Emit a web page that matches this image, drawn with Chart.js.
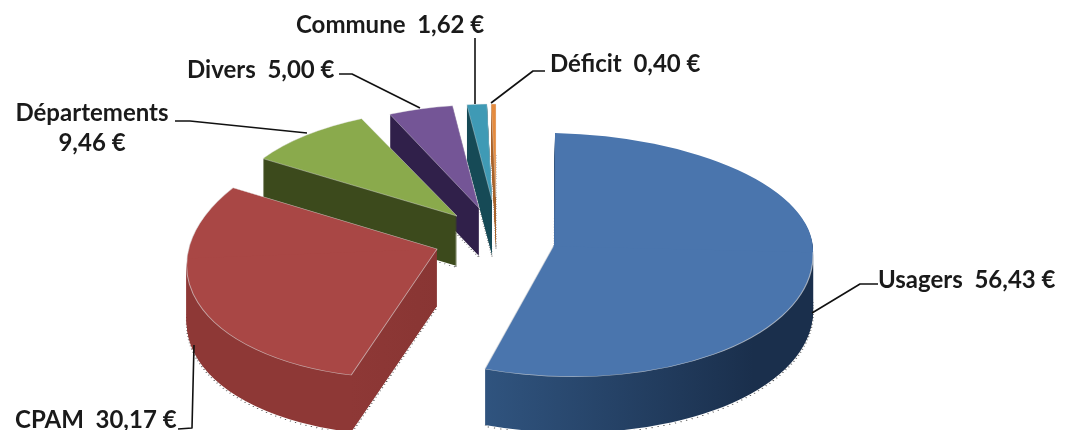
<!DOCTYPE html>
<html lang="fr">
<head>
<meta charset="utf-8">
<style>html,body{margin:0;padding:0;background:#fff}canvas{display:block}</style>
<script src="https://cdn.jsdelivr.net/npm/chart.js@4"></script>
</head>
<body>
<canvas id="c" width="1069" height="430"></canvas>
<script>
const categories = ["Usagers", "CPAM", "Départements", "Divers", "Commune", "Déficit"];
const values = [56.43, 30.17, 9.46, 5.00, 1.62, 0.40];
const topColors = ["#4A75AD", "#A94745", "#8AAA4C", "#745596", "#3F9AB5", "#E58B3E"];
const wallColors = [["#30547F", "#1A2F4C"], ["#8E3836", "#7C2F2D"], ["#3C4A1C", "#3C4A1C"], ["#30204A", "#30204A"], ["#164A56", "#164A56"], ["#A8622A", "#A8622A"]];
const R = 250;
// pseudo-3D projection of each exploded slice (layout only)
const proj = [
  {e:554,f:245,a:259,b:6,cu:-1,du:112,cl:7.3,dl:131.5,depth:56},
  {e:437,f:249,a:250,b:-9.5,cu:-13,du:129,cl:-13,dl:129,depth:57},
  {e:457,f:216,a:230,b:0,cu:0,du:107,cl:0,dl:107,depth:50},
  {e:479,f:208,a:215,b:0,cu:0,du:103,cl:0,dl:103,depth:48},
  {e:492,f:200,a:205,b:0,cu:0,du:96,cl:0,dl:96,depth:55},
  {e:496,f:197,a:200,b:0,cu:0,du:93,cl:0,dl:93,depth:50}
];
const fmt = v => v.toFixed(2).replace(".", ",") + " €";
const labelLayout = [
  {lines:[categories[0] + "  " + fmt(values[0])], x:878, y:280, align:"left"},
  {lines:[categories[1] + "  " + fmt(values[1])], x:15, y:420, align:"left"},
  {lines:[categories[2], fmt(values[2])], x:92, y:113, align:"center", lh:30},
  {lines:[categories[3] + "  " + fmt(values[3])], x:187, y:70, align:"left"},
  {lines:[categories[4] + "  " + fmt(values[4])], x:296, y:25, align:"left"},
  {lines:[categories[5] + "  " + fmt(values[5])], x:550, y:64, align:"left"}
];
const leaders = [
  [[812,313],[860,284],[878,284]],
  [[178,429],[192,428],[194,345]],
  [[175,121],[190,121],[307,133]],
  [[339,74],[352,74],[420,108]],
  [[475,38],[475,104]],
  [[545,71],[533,71],[491,103]]
];
const base = {borderAlign:"center",borderDash:[],borderDashOffset:0,borderJoinStyle:"round",borderRadius:0,circular:true,offset:0,spacing:0,borderWidth:0,borderColor:"transparent"};

function drawPiece(ctx, arc, p, upper, dy, opts){
  const orig = arc.options;
  ctx.save();
  ctx.translate(p.e, p.f + dy);
  ctx.transform(p.a/R, p.b/R, (upper?p.cu:p.cl)/R, (upper?p.du:p.dl)/R, 0, 0);
  ctx.beginPath();
  if(upper) ctx.rect(-2*R,-2*R,4*R,2*R+3); else ctx.rect(-2*R,0,4*R,2*R);
  ctx.clip();
  ctx.translate(-arc.x, -arc.y);
  arc.options = Object.assign({}, base, opts);
  arc.draw(ctx);
  arc.options = orig;
  ctx.restore();
}
function wallFill(ctx, arc, i){
  const g = ctx.createLinearGradient(arc.x - 0.3*R, 0, arc.x + 0.75*R, 0);
  g.addColorStop(0, wallColors[i][0]);
  g.addColorStop(1, wallColors[i][1]);
  return g;
}
const pseudo3d = {
  id:"pseudo3d",
  beforeDatasetsDraw(chart){
    const ctx = chart.ctx, arcs = chart.getDatasetMeta(0).data;
    for(let i = arcs.length-1; i >= 0; i--){
      const arc = arcs[i], p = proj[i];
      // speckled outline below the wall
      for(const u of [true,false]) drawPiece(ctx, arc, p, u, p.depth+1.5, {backgroundColor:"transparent",borderWidth:1.6,borderColor:"rgba(0,0,0,0.8)",borderDash:[1.2,5]});
      const fill = wallFill(ctx, arc, i);
      for(let k = p.depth; k >= 1; k--){
        for(const u of [true,false]) drawPiece(ctx, arc, p, u, k, {backgroundColor:fill});
      }
      if(i===0){
        drawPiece(ctx, arc, p, false, 0, {backgroundColor:topColors[i],borderWidth:1.2,borderColor:"rgba(225,225,225,0.65)"});
        drawPiece(ctx, arc, p, true, 0, {backgroundColor:topColors[i]});
      } else {
        drawPiece(ctx, arc, p, true, 0, {backgroundColor:topColors[i],borderWidth:1,borderColor:"rgba(225,225,225,0.65)"});
        drawPiece(ctx, arc, p, false, 0, {backgroundColor:topColors[i],borderWidth:1,borderColor:"rgba(225,225,225,0.65)"});
      }
    }
    return false;
  },
  afterDraw(chart){
    const ctx = chart.ctx;
    ctx.save();
    ctx.strokeStyle = "#111"; ctx.lineWidth = 1.6; ctx.lineJoin = "round";
    leaders.forEach(l => {
      ctx.beginPath();
      l.forEach((pt,j) => j ? ctx.lineTo(pt[0],pt[1]) : ctx.moveTo(pt[0],pt[1]));
      ctx.stroke();
    });
    ctx.fillStyle = "#1a1a1a";
    ctx.font = "bold 24px Lato";
    ctx.textBaseline = "middle";
    labelLayout.forEach(l => {
      ctx.textAlign = l.align;
      l.lines.forEach((t,j) => ctx.fillText(t, l.x, l.y + j*(l.lh||0)));
    });
    ctx.restore();
  }
};
new Chart(document.getElementById("c"), {
  type:"pie",
  data:{labels:categories, datasets:[{data:values, backgroundColor:topColors, borderWidth:0}]},
  options:{
    responsive:false, animation:false, radius:R,
    layout:{padding:0},
    plugins:{legend:{display:false}, tooltip:{enabled:false}}
  },
  plugins:[pseudo3d]
});
</script>
</body>
</html>
